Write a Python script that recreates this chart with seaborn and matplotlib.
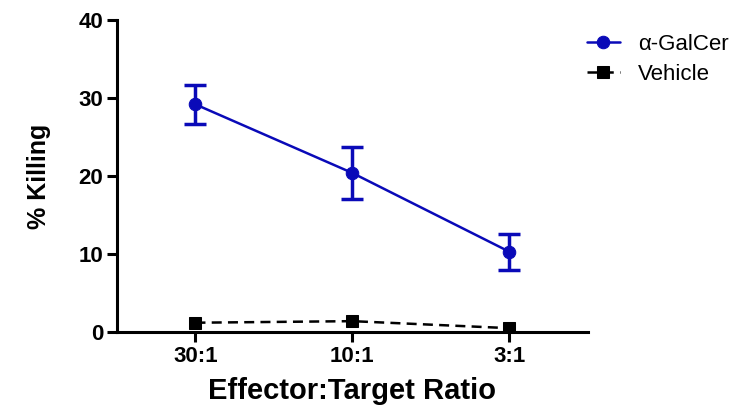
import matplotlib
matplotlib.use("Agg")
import matplotlib.pyplot as plt
import seaborn as sns
import pandas as pd

ratios = ["30:1", "10:1", "3:1"]
galcer = [29.2, 20.4, 10.3]
galcer_err = [2.5, 3.3, 2.3]
vehicle = [1.2, 1.4, 0.5]
vehicle_err = [0.2, 0.2, 0.2]
yticks = [0, 10, 20, 30, 40]

sns.set_theme(style="ticks")
plt.rcParams['font.family'] = ['Liberation Sans', 'DejaVu Sans']
plt.rcParams['text.color'] = 'black'
plt.rcParams['axes.labelcolor'] = 'black'
plt.rcParams['xtick.color'] = 'black'
plt.rcParams['ytick.color'] = 'black'
plt.rcParams['axes.edgecolor'] = 'black'

blue = "#0A0AB8"

fig = plt.figure(figsize=(7.47, 4.12), dpi=100)
ax = fig.add_axes([0.1566, 0.194, 0.787 - 0.1566, 0.951 - 0.194])

df_g = pd.DataFrame({"ratio": ratios, "val": galcer})
df_v = pd.DataFrame({"ratio": ratios, "val": vehicle})

sns.lineplot(data=df_g, x="ratio", y="val", ax=ax, color=blue, marker="o",
             markersize=9, linewidth=1.8, markeredgecolor=blue, label="\u03b1-GalCer",
             sort=False)
sns.lineplot(data=df_v, x="ratio", y="val", ax=ax, color="black", marker="s",
             markersize=8, linewidth=1.8, linestyle=(0, (4, 2.5)), markeredgecolor="black",
             label="Vehicle", sort=False)
ax.errorbar(ratios, galcer, yerr=galcer_err, fmt="none", ecolor=blue,
            elinewidth=2.5, capsize=8, capthick=2.5, zorder=3)
ax.errorbar(ratios, vehicle, yerr=vehicle_err, fmt="none", ecolor="black",
            elinewidth=1.5, capsize=0, zorder=3)

ax.set_xlim(-0.5, 2.5)
ax.set_ylim(0, 40)
ax.set_yticks(yticks)
ax.set_xlabel("Effector:Target Ratio", fontsize=21, fontweight="bold", labelpad=7)
ax.set_ylabel("% Killing", fontsize=18, fontweight="bold", labelpad=20)

for s in ["top", "right"]:
    ax.spines[s].set_visible(False)
for s in ["left", "bottom"]:
    ax.spines[s].set_linewidth(2.2)
ax.tick_params(axis="both", width=2.2, length=7, labelsize=16, pad=3)
for lbl in ax.get_xticklabels() + ax.get_yticklabels():
    lbl.set_fontweight("bold")

leg = ax.legend(loc="upper left", bbox_to_anchor=(0.955, 1.02), frameon=False,
                fontsize=16, handlelength=1.5, handletextpad=0.8, labelspacing=0.4)

fig.savefig("out.png", dpi=100)
